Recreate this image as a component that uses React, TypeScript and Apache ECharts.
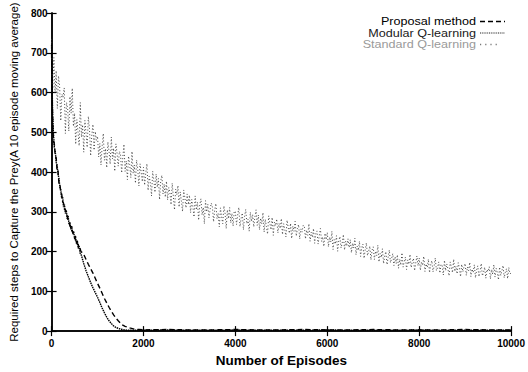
import React, { useEffect, useRef } from "react";
import * as echarts from "echarts";

// ---- Data ----
const xTicks = [0, 2000, 4000, 6000, 8000, 10000];
const yTicks = [0, 100, 200, 300, 400, 500, 600, 700, 800];

// Standard Q-learning: one value every 25 episodes (0 ... 10000)
const standardStep = 25;
const standardSteps = [
  735, 610, 688, 598, 655, 560, 642, 617, 529, 596, 588, 612, 497, 575, 560, 503, 590, 548, 611, 515,
  548, 470, 532, 501, 466, 575, 488, 519, 450, 530, 497, 462, 540, 508, 441, 493, 520, 455, 502, 480,
  490, 438, 472, 418, 465, 497, 430, 459, 411, 476, 452, 420, 488, 433, 460, 402, 471, 447, 415, 452,
  445, 398, 437, 470, 402, 428, 381, 440, 419, 386, 452, 397, 418, 372, 430, 408, 365, 421, 399, 376,
  412, 367, 398, 421, 354, 389, 373, 340, 402, 381, 349, 395, 362, 384, 331, 378, 392, 345, 370, 337,
  377, 330, 361, 349, 318, 372, 338, 305, 357, 343, 366, 312, 350, 327, 301, 355, 336, 310, 345, 318,
  342, 298, 331, 313, 287, 340, 305, 324, 279, 318, 333, 292, 311, 270, 328, 300, 319, 285, 306, 322,
  312, 275, 305, 321, 283, 296, 262, 310, 288, 270, 315, 297, 258, 305, 283, 311, 272, 296, 264, 302,
  300, 268, 292, 311, 263, 284, 297, 255, 289, 306, 270, 281, 251, 299, 276, 293, 262, 287, 305, 266,
  292, 255, 284, 270, 298, 249, 281, 263, 244, 290, 272, 255, 286, 241, 274, 265, 282, 247, 271, 258,
  283, 243, 270, 256, 237, 279, 260, 246, 271, 233, 264, 251, 276, 239, 258, 268, 232, 257, 249, 266,
  265, 232, 254, 241, 270, 226, 249, 236, 258, 221, 245, 252, 219, 240, 258, 226, 237, 213, 246, 230,
  248, 212, 236, 224, 251, 205, 230, 219, 240, 201, 227, 238, 209, 222, 243, 204, 226, 214, 232, 210,
  230, 197, 221, 209, 234, 192, 214, 203, 226, 188, 210, 219, 183, 205, 222, 190, 201, 214, 179, 204,
  212, 180, 201, 190, 216, 174, 195, 185, 207, 170, 189, 200, 167, 186, 204, 172, 183, 195, 165, 187,
  170, 192, 158, 181, 166, 197, 161, 175, 186, 155, 179, 168, 193, 160, 174, 183, 152, 171, 189, 164,
  184, 153, 174, 165, 188, 150, 169, 160, 181, 147, 167, 177, 149, 163, 184, 152, 160, 174, 146, 168,
  165, 141, 178, 152, 169, 157, 139, 174, 161, 147, 181, 150, 163, 144, 172, 158, 137, 168, 149, 162,
  170, 140, 161, 152, 173, 137, 156, 147, 167, 134, 154, 164, 137, 150, 170, 139, 147, 161, 133, 155,
  150, 162, 131, 155, 143, 167, 136, 158, 147, 129, 161, 140, 152, 165, 134, 148, 157, 132, 160, 144,
  146,
];

const modularEpisodes = [
  0, 20, 40, 60, 80, 100, 120, 140, 160, 180, 200, 220, 240, 260, 280, 300, 320, 340, 360, 380,
  400, 420, 440, 460, 480, 500, 520, 540, 560, 580, 600, 620, 640, 660, 700, 750, 800, 850, 900,
  950, 1000, 1050, 1100, 1150, 1200, 1250, 1300, 1350, 1400, 1450, 1500, 1600, 1700, 2000, 2500,
  3000, 3500, 4000, 4500, 5000, 5500, 6000, 6500, 7000, 7500, 8000, 8500, 9000, 9500, 10000,
];
const modularSteps = [
  720, 560, 498, 462, 452, 425, 418, 395, 385, 362, 356, 334, 338, 312, 318, 296, 304, 282, 290, 268,
  274, 256, 264, 246, 252, 232, 240, 220, 228, 208, 214, 196, 194, 186, 170, 152, 137, 122, 109,
  97, 85, 72, 58, 46, 35, 26, 19, 13, 9, 7, 5, 3, 2, 2, 3,
  2, 2, 3, 2, 2, 2, 3, 2, 2, 2, 3, 2, 2, 2, 2,
];

const proposalEpisodes = [
  0, 20, 40, 60, 80, 100, 120, 140, 160, 180, 200, 220, 240, 260, 280, 300, 320, 340, 360, 380,
  400, 420, 440, 460, 480, 500, 520, 540, 560, 580, 600, 620, 640, 680, 700, 750, 800, 850, 900,
  950, 1000, 1050, 1100, 1150, 1200, 1250, 1300, 1350, 1400, 1450, 1500, 1550, 1600, 1700, 1800,
  1900, 2000, 2500, 3000, 3500, 4000, 4500, 5000, 5500, 6000, 6500, 7000, 7500, 8000, 8500, 9000,
  9500, 10000,
];
const proposalSteps = [
  700, 545, 480, 470, 440, 436, 402, 404, 372, 372, 346, 345, 326, 322, 306, 306, 292, 290, 278, 276,
  264, 262, 252, 250, 240, 240, 228, 230, 218, 218, 208, 208, 200, 196, 193, 180, 168, 157, 146,
  133, 120, 108, 95, 82, 71, 60, 50, 41, 33, 26, 20, 15, 12, 8, 5,
  4, 3, 4, 3, 3, 4, 3, 3, 4, 3, 3, 4, 3, 3, 3, 4,
  3, 3,
];

const seriesNames = ["Proposal method", "Modular Q-learning", "Standard Q-learning"];
const legendColors = ["#000", "#1a1a1a", "#9a9a9a"];

const FONT = "'Liberation Sans', Arial, Helvetica, sans-serif";

export default function App() {
  const ref = useRef<HTMLDivElement>(null);

  useEffect(() => {
    if (!ref.current) return;
    const chart = echarts.init(ref.current, null, { renderer: "svg" });

    const standardData = standardSteps.map((v, i) => [i * standardStep, v]);
    const modularData = modularEpisodes.map((e, i) => [e, modularSteps[i]]);
    const proposalData = proposalEpisodes.map((e, i) => [e, proposalSteps[i]]);

    const axisLine = { show: true, lineStyle: { color: "#000", width: 1.5 } };
    const tick = { show: true, inside: true, length: 5, lineStyle: { color: "#000", width: 1.2 } };

    // legend drawn as graphic (text on the left, line sample on the right)
    const legendY = [21.5, 33, 44.5];
    const legendDash = [[5, 3], [1, 0.8], [1.2, 4]];
    const legendWidth = [1.3, 1, 1.3];
    const legendStroke = ["#000", "#222", "#777"];
    const legendLen = [25, 25, 20];
    const legendGraphics: any[] = [];
    seriesNames.forEach((name, i) => {
      legendGraphics.push({
        type: "text",
        x: 476,
        y: legendY[i],
        scaleX: 1.2,
        style: {
          text: name,
          fill: legendColors[i],
          font: `10.5px ${FONT}`,
          textAlign: "right",
          textVerticalAlign: "middle",
        },
      });
      legendGraphics.push({
        type: "line",
        shape: { x1: 480, y1: legendY[i], x2: 480 + legendLen[i], y2: legendY[i] },
        style: { stroke: legendStroke[i], lineWidth: legendWidth[i], lineDash: legendDash[i] },
      });
    });

    chart.setOption({
      animation: false,
      backgroundColor: "#fff",
      textStyle: { fontFamily: FONT },
      grid: { left: 42, right: 16, top: 12, bottom: 39, containLabel: false },
      graphic: legendGraphics,
      xAxis: [
        {
          type: "value",
          min: 0,
          max: 10000,
          interval: 2000,
          position: "bottom",
          axisLine,
          axisTick: tick,
          splitLine: { show: false },
          axisLabel: {
            color: "#000",
            fontSize: 10,
            fontWeight: "bold",
            margin: 7,
            fontFamily: FONT,
            formatter: (v: number) => (xTicks.includes(v) ? String(v) : ""),
          },
          name: "Number of Episodes",
          nameLocation: "middle",
          nameGap: 16,
          nameTextStyle: { color: "#000", fontSize: 13.5, fontWeight: "bold", fontFamily: FONT },
        },
        {
          type: "value",
          min: 0,
          max: 10000,
          interval: 2000,
          position: "top",
          axisLine,
          axisTick: tick,
          axisLabel: { show: false },
          splitLine: { show: false },
        },
      ],
      yAxis: [
        {
          type: "value",
          min: 0,
          max: 800,
          interval: 100,
          position: "left",
          axisLine,
          axisTick: tick,
          splitLine: { show: false },
          axisLabel: {
            color: "#000",
            fontSize: 10,
            fontWeight: "bold",
            margin: 4,
            fontFamily: FONT,
            formatter: (v: number) => (yTicks.includes(v) ? String(v) : ""),
          },
          name: "Required steps to Capture the Prey(A 10 episode moving average)",
          nameLocation: "middle",
          nameGap: 29,
          nameTextStyle: { color: "#000", fontSize: 11.5, fontFamily: FONT },
        },
        {
          type: "value",
          min: 0,
          max: 800,
          interval: 100,
          position: "right",
          axisLine,
          axisTick: tick,
          axisLabel: { show: false },
          splitLine: { show: false },
        },
      ],
      series: [
        {
          name: seriesNames[0],
          type: "line",
          xAxisIndex: 0,
          yAxisIndex: 0,
          data: proposalData,
          showSymbol: false,
          symbol: "none",
          z: 3,
          lineStyle: { color: "#000", width: 1.4, type: [5, 3] },
        },
        {
          name: seriesNames[1],
          type: "line",
          xAxisIndex: 0,
          yAxisIndex: 0,
          data: modularData,
          showSymbol: false,
          symbol: "none",
          z: 3,
          lineStyle: { color: "#000", width: 1.4, type: [1.5, 0.8] },
        },
        {
          name: seriesNames[2],
          type: "line",
          xAxisIndex: 0,
          yAxisIndex: 0,
          data: standardData,
          showSymbol: false,
          symbol: "none",
          z: 2,
          lineStyle: { color: "#333", width: 0.9, type: [1, 2.2] },
        },
      ],
    });

    return () => chart.dispose();
  }, []);

  return (
    <div
      ref={ref}
      style={{ position: "fixed", left: 0, top: 0, width: 528, height: 372, background: "#fff" }}
    />
  );
}
